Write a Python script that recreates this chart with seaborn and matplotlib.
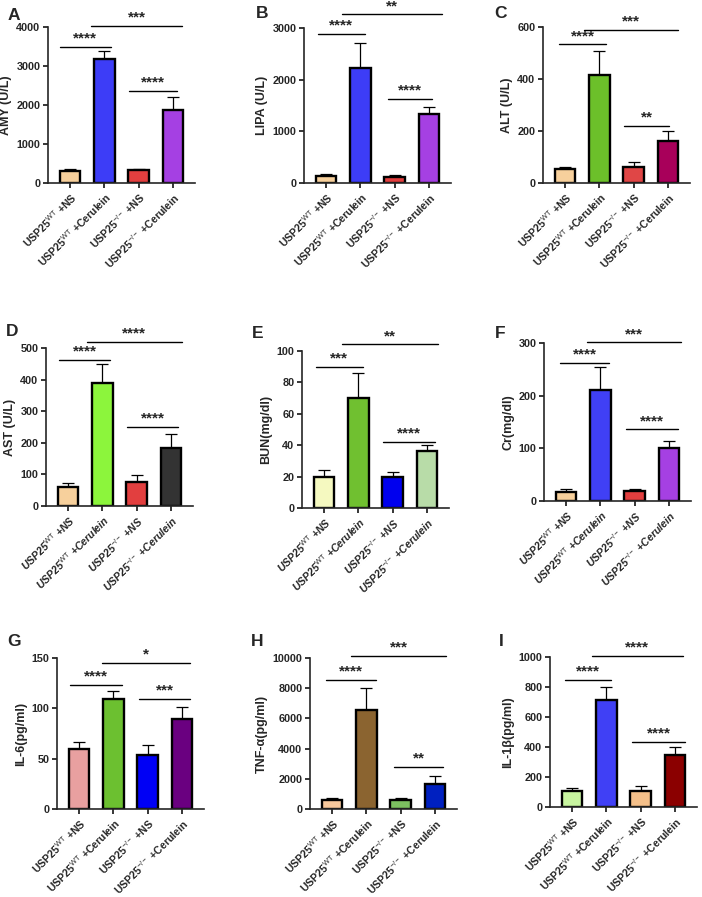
import matplotlib
matplotlib.use("Agg")
import matplotlib.pyplot as plt
import seaborn as sns
import pandas as pd
import numpy as np

sns.set_style("ticks")
plt.rcParams["font.family"] = ["Liberation Sans", "DejaVu Sans"]
plt.rcParams["mathtext.fontset"] = "custom"
plt.rcParams["mathtext.rm"] = "Liberation Sans"
plt.rcParams["mathtext.it"] = "Liberation Sans:italic"
plt.rcParams["mathtext.bf"] = "Liberation Sans:bold"

# ---------------- data ----------------
groups = ["WT+NS", "WT+Cerulein", "KO+NS", "KO+Cerulein"]
tick_labels = [r"USP25$^{\mathrm{WT}}$ +NS", r"USP25$^{\mathrm{WT}}$ +Cerulein",
               r"USP25$^{\mathrm{-/-}}$ +NS", r"USP25$^{\mathrm{-/-}}$ +Cerulein"]
letters = ["A", "B", "C", "D", "E", "F", "G", "H", "I"]
ylabels = ["AMY (U/L)", "LIPA (U/L)", "ALT (U/L)", "AST (U/L)", "BUN(mg/dl)",
           "Cr(mg/dl)", "IL-6(pg/ml)", "TNF-α(pg/ml)", "IL-1β(pg/ml)"]
ymax = [4000, 3000, 600, 500, 100, 300, 150, 10000, 1000]
ystep = [1000, 1000, 200, 100, 20, 100, 50, 2000, 200]

means_A = [320, 3180, 325, 1860]
sd_A = [40, 200, 45, 345]
means_B = [130, 2220, 120, 1340]
sd_B = [45, 490, 35, 140]
means_C = [53, 417, 63, 160]
sd_C = [9, 89, 18, 40]
means_D = [60, 388, 76, 185]
sd_D = [14, 61, 21, 43]
means_E = [20, 70.3, 19.5, 36.2]
sd_E = [4.5, 16, 3.5, 3.7]
means_F = [17.5, 211, 18.7, 101]
sd_F = [6, 43, 5, 12]
means_G = [59.5, 109.5, 53.5, 89.5]
sd_G = [7, 7.5, 10.5, 11.5]
means_H = [590, 6550, 620, 1680]
sd_H = [120, 1450, 130, 500]
means_I = [108, 714, 108, 349]
sd_I = [22, 88, 29, 51]

colors_A = ["#f7d09c", "#3d3df7", "#e23f3f", "#a540e3"]
colors_B = ["#f7d09c", "#3d3df7", "#e23f3f", "#a540e3"]
colors_C = ["#f7d09c", "#6cc02a", "#e04646", "#a8005a"]
colors_D = ["#f7d09c", "#8cf53c", "#e23f3f", "#333333"]
colors_E = ["#f5f9c0", "#70c030", "#0000ee", "#b8dca8"]
colors_F = ["#f7d09c", "#4040f5", "#e23f3f", "#a540e3"]
colors_G = ["#e8a0a0", "#6cc030", "#0000f5", "#6a0080"]
colors_H = ["#f7c89c", "#8b6430", "#7cc060", "#0020c0"]
colors_I = ["#c8f5a0", "#4040f5", "#f5c08a", "#8b0000"]

# significance annotations: (from, to, level, label)
sig_A = [(-0.3, 1.19, 3496, "****"), (0.62, 3.26, 4017, "***"), (1.72, 3.12, 2350, "****")]
sig_B = [(-0.23, 1.12, 2877, "****"), (0.47, 3.4, 3263, "**"), (1.81, 3.1, 1631, "****")]
sig_C = [(-0.17, 1.2, 533, "****"), (0.54, 3.29, 590, "***"), (1.72, 3.05, 218, "**")]
sig_D = [(-0.27, 1.23, 463, "****"), (0.54, 3.33, 518, "****"), (1.71, 3.22, 250, "****")]
sig_E = [(-0.24, 1.12, 89.9, "***"), (0.52, 3.34, 104.2, "**"), (1.72, 3.24, 42.3, "****")]
sig_F = [(-0.17, 1.26, 262, "****"), (0.61, 3.37, 301, "***"), (1.74, 3.26, 136, "****")]
sig_G = [(-0.27, 1.25, 123.4, "****"), (0.67, 3.24, 144.9, "*"), (1.75, 3.24, 109.2, "***")]
sig_H = [(-0.19, 1.29, 8529, "****"), (0.56, 3.33, 10132, "***"), (1.81, 3.25, 2799, "**")]
sig_I = [(-0.2, 1.13, 846, "****"), (0.58, 3.23, 1008, "****"), (1.76, 3.29, 433, "****")]

all_means = [means_A, means_B, means_C, means_D, means_E, means_F, means_G, means_H, means_I]
all_sd = [sd_A, sd_B, sd_C, sd_D, sd_E, sd_F, sd_G, sd_H, sd_I]
all_colors = [colors_A, colors_B, colors_C, colors_D, colors_E, colors_F, colors_G, colors_H, colors_I]
all_sig = [sig_A, sig_B, sig_C, sig_D, sig_E, sig_F, sig_G, sig_H, sig_I]

# ---------------- layout (pixels) ----------------
W, H = 702, 897
ax_left = [48, 304, 543, 46, 302, 544, 57, 310, 550]
ax_top = [27, 28, 27, 348, 351, 343, 658, 658, 657]
ax_bot = [183, 183, 183, 506, 508, 501, 809, 809, 807]
ax_w = 147
let_x = [8, 256, 494, 6, 252, 495, 7, 251, 499]
let_y = [15, 14, 14, 332, 333, 333, 641, 641, 641]

fig = plt.figure(figsize=(W / 100, H / 100), dpi=100)

for i in range(9):
    rect = [ax_left[i] / W, 1 - ax_bot[i] / H, ax_w / W, (ax_bot[i] - ax_top[i]) / H]
    ax = fig.add_axes(rect)
    df = pd.DataFrame({"group": groups, "value": all_means[i]})
    sns.barplot(data=df, x="group", y="value", hue="group", palette=all_colors[i],
                order=groups, hue_order=groups, width=0.6, errorbar=None, saturation=1,
                legend=False, edgecolor="black", linewidth=1.7, ax=ax, zorder=2)
    xs = np.arange(4)
    sd = np.array(all_sd[i])
    ax.errorbar(xs, all_means[i], yerr=[np.zeros(4), sd], fmt="none", ecolor="black",
                elinewidth=0.9, capsize=4, capthick=0.9, zorder=1)
    ax.set_xlim(-0.65, 3.65)
    ax.set_ylim(0, ymax[i])
    ax.set_yticks(np.arange(0, ymax[i] + 1, ystep[i]))
    ax.set_xlabel("")
    ax.set_ylabel(ylabels[i], fontsize=9, fontweight="bold", labelpad=3)
    style = "italic" if 3 <= i <= 5 else "normal"
    ax.set_xticks(xs)
    ax.set_xticklabels(tick_labels, rotation=45, ha="right", rotation_mode="anchor",
                       fontsize=7.6, fontweight="bold", fontstyle=style)
    for lab in ax.get_yticklabels():
        lab.set_fontweight("bold")
        lab.set_fontsize(7.8)
    sns.despine(ax=ax)
    for sp in ["left", "bottom"]:
        ax.spines[sp].set_linewidth(1.2)
    ax.tick_params(axis="both", width=1.1, length=3.5, pad=2, color="black")
    ax.set_facecolor("none")
    for (x1, x2, yv, lab) in all_sig[i]:
        ax.plot([x1, x2], [yv, yv], color="black", lw=1.0, clip_on=False)
        ax.annotate(lab, xy=((x1 + x2) / 2, yv), xytext=(0, 1), textcoords="offset points",
                    ha="center", va="bottom", fontsize=11, fontweight="bold",
                    annotation_clip=False)
    fig.text(let_x[i] / W, 1 - let_y[i] / H, letters[i], fontsize=12.5, fontweight="bold",
             ha="left", va="center")

fig.savefig("out.png", dpi=100, facecolor="white")
